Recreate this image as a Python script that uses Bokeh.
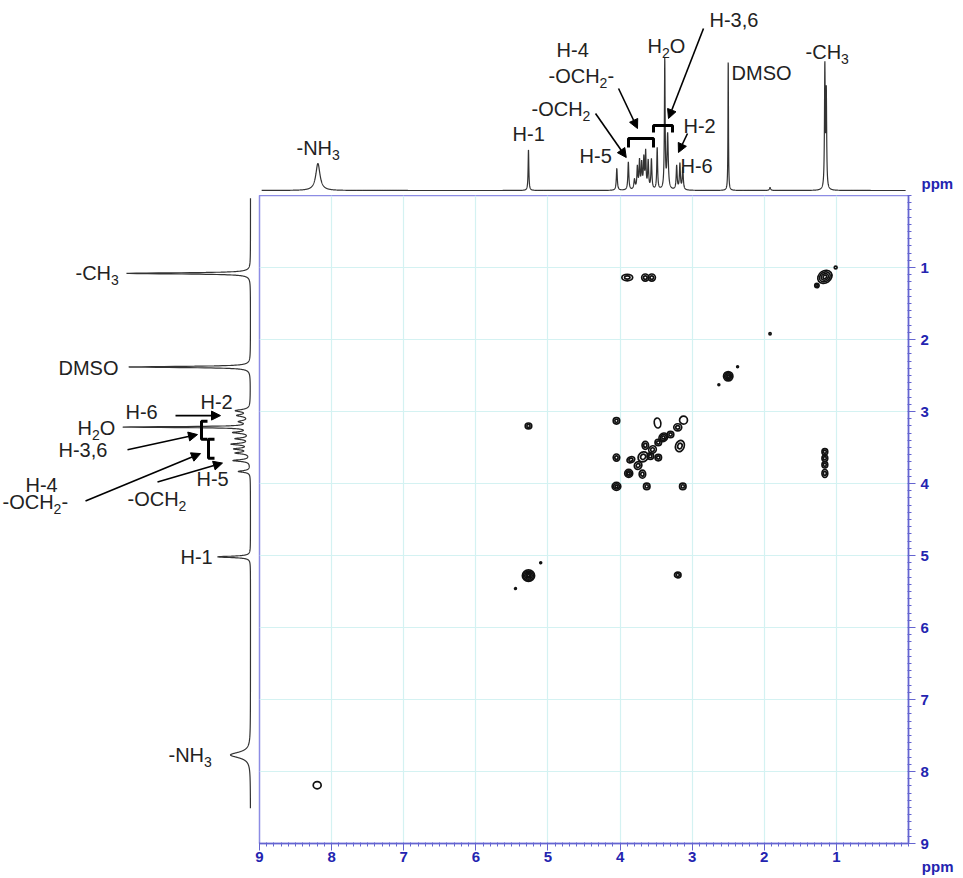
import numpy as np
from bokeh.plotting import figure
from bokeh.models import Range1d, FixedTicker, Arrow, NormalHead, Spacer, ColumnDataSource, LinearAxis
from bokeh.layouts import column, row
from bokeh.embed import file_html
from bokeh.resources import INLINE
from bokeh.core.properties import value

# ---------------- data ----------------
# 1D proton spectrum on top (F2): position ppm, height, half width
top_ppm    = [8.19, 5.27, 4.045, 3.885, 3.80, 3.76, 3.73, 3.70, 3.67, 3.645, 3.61, 3.565, 3.485, 3.38, 3.34, 3.215, 3.17, 3.13, 2.50, 1.92, 1.16, 1.14]
top_height = [27, 41, 22, 28, 10, 22, 28, 25, 30, 36, 28, 30, 42, 130, 55, 24, 26, 22, 131, 3, 122, 95]
top_hwhm   = [0.035, 0.006, 0.008, 0.008, 0.01, 0.008, 0.008, 0.008, 0.008, 0.007, 0.008, 0.008, 0.007, 0.006, 0.01, 0.008, 0.008, 0.008, 0.004, 0.01, 0.006, 0.006]

# 1D projection on the left (F1)
left_ppm    = [8.19, 5.29, 4.04, 3.88, 3.77, 3.71, 3.64, 3.56, 3.47, 3.39, 3.31, 3.22, 3.15, 2.51, 1.14]
left_height = [20, 33, 12, 17, 14, 15, 18, 14, 16, 127, 10, 12, 14, 122, 124]
left_hwhm   = [0.05, 0.012, 0.015, 0.015, 0.015, 0.015, 0.015, 0.015, 0.015, 0.008, 0.02, 0.02, 0.02, 0.01, 0.01]

# COSY cross / diagonal peaks: F2 ppm, F1 ppm, width, height (ppm), contour levels, angle (deg)
pk_f2  = [1.16, 1.27, 1.01, 1.92, 2.50, 2.63, 2.37, 5.27, 5.45, 5.10, 3.20, 5.27, 8.20,
          3.90, 3.65, 3.56, 1.16, 1.16, 1.16, 1.16,
          4.05, 4.05, 4.05, 3.63, 3.13, 3.48, 3.20, 3.12, 3.17, 3.40, 3.47, 3.65, 3.47,
          3.68, 3.58, 3.85, 3.88, 3.69, 3.30, 3.55, 3.75]
pk_f1  = [1.13, 1.25, 1.00, 1.92, 2.51, 2.63, 2.38, 5.28, 5.46, 5.10, 5.27, 3.20, 8.19,
          1.14, 1.14, 1.14, 3.56, 3.65, 3.74, 3.86,
          3.13, 3.64, 4.04, 4.04, 4.04, 3.16, 3.22, 3.12, 3.48, 3.36, 3.43, 3.47, 3.64,
          3.63, 3.62, 3.67, 3.86, 3.87, 3.32, 3.53, 3.75]
pk_w   = [0.21, 0.06, 0.04, 0.03, 0.13, 0.025, 0.025, 0.17, 0.025, 0.025, 0.09, 0.09, 0.11,
          0.15, 0.10, 0.10, 0.08, 0.08, 0.08, 0.08,
          0.09, 0.09, 0.12, 0.09, 0.09, 0.09, 0.11, 0.11, 0.12, 0.13, 0.09, 0.09, 0.09,
          0.15, 0.09, 0.11, 0.11, 0.09, 0.09, 0.11, 0.11]
pk_h   = [0.17, 0.06, 0.04, 0.03, 0.13, 0.025, 0.025, 0.16, 0.025, 0.025, 0.08, 0.08, 0.10,
          0.09, 0.10, 0.10, 0.09, 0.09, 0.09, 0.11,
          0.09, 0.10, 0.11, 0.09, 0.09, 0.14, 0.10, 0.11, 0.16, 0.11, 0.09, 0.11, 0.09,
          0.13, 0.09, 0.08, 0.11, 0.11, 0.09, 0.10, 0.10]
pk_lev = [4, 2, 1, 1, 4, 1, 1, 5, 1, 1, 2, 2, 1,
          2, 2, 2, 2, 2, 2, 2,
          2, 2, 3, 2, 2, 1, 2, 1, 2, 3, 2, 2, 2,
          2, 2, 2, 3, 2, 2, 2, 2]
pk_ang = [35, 0, 0, 0, 0, 0, 0, 0, 0, 0, 0, 0, 0,
          0, 0, 0, 0, 0, 0, 0,
          0, 0, 0, 0, 0, 10, 0, 0, -20, 45, 0, 0, 0,
          45, 0, 20, 0, 0, 0, 45, 45]

tick_values = [1, 2, 3, 4, 5, 6, 7, 8, 9]
tick_labels = ["1", "2", "3", "4", "5", "6", "7", "8", "9"]
unit_label = "ppm"

# annotation texts ("_" marks the next character as subscript)
top_labels = [("-NH_3", 8.487, 43), ("H-1", 5.491, 57), ("H-5", 4.562, 35), ("-OCH_2", 5.228, 82),
              ("H-4", 4.881, 141), ("-OCH_2-", 4.992, 115), ("H_2O", 3.619, 145), ("H-3,6", 2.760, 171),
              ("H-2", 3.120, 65), ("H-6", 3.162, 25), ("DMSO", 2.454, 118), ("-CH_3", 1.428, 139)]
top_arrows = [(4.340, 77, 3.914, 33), (4.021, 102, 3.758, 62), (2.843, 162, 3.328, 72), (3.065, 57, 3.19, 38)]
top_brackets = [(3.883, 3.536, 43, 52), (3.536, 3.273, 58, 65)]

left_labels = [("-CH_3", 175, 1.14), ("DMSO", 192, 2.528), ("H-6", 125, 3.167), ("H-2", 50, 3.028),
               ("H_2O", 173, 3.403), ("H-3,6", 192, 3.722), ("H-4", 225, 4.236), ("-OCH_2-", 248, 4.486),
               ("-OCH_2", 123, 4.444), ("H-5", 54, 4.153), ("H-1", 70, 5.292), ("-NH_3", 82, 8.194)]
left_arrows = [(75, 3.222, 30, 3.222), (123, 3.722, 53, 3.50), (165, 4.472, 50, 3.778), (93, 4.194, 28, 3.917)]
left_brackets = [(49, 43, 3.306, 3.569), (42, 36, 3.569, 3.847)]

# ---------------- styling ----------------
FONT = "Liberation Sans"
BLUE = "#2424b0"
AXIS_BLUE = "#6464d0"
FRAME = "#8c8ce4"
GRID = "#d4f2f2"
INK = "#222222"
PX_PER_PPM = 649 / 9.0

CW = {'-': 0.333, 'H': 0.722, 'O': 0.778, 'C': 0.722, 'N': 0.722, 'D': 0.722, 'M': 0.833,
      'S': 0.667, ',': 0.278}


def parse(lbl):
    parts, i = [], 0
    while i < len(lbl):
        if lbl[i] == "_":
            parts.append((lbl[i + 1], True)); i += 2
        else:
            j = i
            while j < len(lbl) and lbl[j] != "_":
                j += 1
            parts.append((lbl[i:j], False)); i = j
    return parts


def add_label(fig, x, y, lbl, size=20, sub_size=14):
    off = 0.0
    for txt, sub in parse(lbl):
        fs = sub_size if sub else size
        fig.text(x=[x], y=[y], text=[txt], x_offset=off, y_offset=(7 if sub else 0),
                 text_font=value(FONT), text_font_size=f"{fs}px", text_align="left",
                 text_baseline="middle", text_color=INK)
        off += sum(CW.get(c, 0.556) for c in txt) * fs


def lorentz(grid, pos, hts, hws):
    s = np.zeros_like(grid)
    for p, h, w in zip(pos, hts, hws):
        s += h / (1.0 + ((grid - p) / w) ** 2)
    return s


grid = np.linspace(8.97, 0.04, 6000)

# ---------------- top spectrum ----------------
top = figure(width=704, height=195, x_range=Range1d(9, 9 - 704 / PX_PER_PPM), y_range=Range1d(-5, 190),
             toolbar_location=None, output_backend="svg", min_border=0,
             x_axis_location=None, y_axis_location=None)
top.outline_line_color = None
top.grid.visible = False
top.line(grid, lorentz(grid, top_ppm, top_height, top_hwhm), line_color="#333333", line_width=1.2)
for lbl, x, y in top_labels:
    add_label(top, x, y, lbl)
for x0, y0, x1, y1 in top_arrows:
    top.add_layout(Arrow(end=NormalHead(size=9, fill_color="black", line_color="black"),
                         x_start=x0, y_start=y0, x_end=x1, y_end=y1, line_width=1.6, line_color="black"))
top.multi_line(xs=[[a, a, b, b] for a, b, lo, hi in top_brackets],
               ys=[[lo, hi, hi, lo] for a, b, lo, hi in top_brackets], line_color="black", line_width=3)
top.text(x=[-0.18], y=[7], text=[unit_label], text_font=value(FONT), text_font_size="15px",
         text_font_style="bold", text_color=BLUE, text_align="left", text_baseline="middle")

# ---------------- left projection ----------------
left = figure(width=252, height=683, x_range=Range1d(250, -2), y_range=Range1d(683 / 72.0, 0),
              toolbar_location=None, output_backend="svg", min_border=0,
              x_axis_location=None, y_axis_location=None)
left.outline_line_color = None
left.grid.visible = False
left.line(lorentz(grid, left_ppm, left_height, left_hwhm), grid, line_color="#333333", line_width=1.2)
for lbl, x, y in left_labels:
    add_label(left, x, y, lbl)
for x0, y0, x1, y1 in left_arrows:
    left.add_layout(Arrow(end=NormalHead(size=9, fill_color="black", line_color="black"),
                          x_start=x0, y_start=y0, x_end=x1, y_end=y1, line_width=1.6, line_color="black"))
left.multi_line(xs=[[b, a, a, b] for a, b, lo, hi in left_brackets],
                ys=[[lo, lo, hi, hi] for a, b, lo, hi in left_brackets], line_color="black", line_width=3)

# ---------------- main COSY map ----------------
main = figure(width=711, height=683, x_range=Range1d(9, 0), y_range=Range1d(9, 0),
              x_axis_location="below", y_axis_location="right", toolbar_location=None,
              output_backend="svg", min_border_left=7, min_border_top=0,
              min_border_right=55, min_border_bottom=35)
main.outline_line_color = FRAME
main.outline_line_width = 1.5
minor = [round(v, 2) for v in np.arange(0.0, 9.001, 0.1)]
for ax in (main.xaxis[0], main.yaxis[0]):
    ax.ticker = FixedTicker(ticks=tick_values, minor_ticks=minor)
    ax.major_label_overrides = dict(zip(tick_values, tick_labels))
    ax.major_label_text_font = FONT
    ax.major_label_text_font_size = "15px"
    ax.major_label_text_font_style = "bold"
    ax.major_label_text_color = BLUE
    ax.axis_line_color = AXIS_BLUE
    ax.axis_line_width = 1.5
    ax.major_tick_line_color = AXIS_BLUE
    ax.minor_tick_line_color = AXIS_BLUE
    ax.major_tick_out = 7
    ax.major_tick_in = 0
    ax.minor_tick_out = 3
    ax.minor_tick_in = 1
main.xaxis[0].major_label_standoff = 1
main.yaxis[0].major_label_standoff = 5

# "ppm" unit under the bottom-right corner: single label of a second bottom axis
# (the label is centred on the frame's right edge, so it is padded on the left)
main.extra_x_ranges = {"unit": Range1d(0, 1)}
unit_axis = LinearAxis(x_range_name="unit", ticker=FixedTicker(ticks=[1], minor_ticks=[]),
                       major_label_overrides={1: "\u00a0" * 14 + unit_label},
                       axis_line_color=None, major_tick_line_color=None,
                       major_tick_out=0, major_tick_in=0, major_label_standoff=-7,
                       major_label_text_font=FONT, major_label_text_font_size="15px",
                       major_label_text_font_style="bold", major_label_text_color=BLUE)
main.add_layout(unit_axis, "below")

for g in (main.xgrid[0], main.ygrid[0]):
    g.ticker = FixedTicker(ticks=tick_values)
    g.grid_line_color = GRID
    g.grid_line_width = 1.2

rx, ry, rw, rh, ra = [], [], [], [], []
for x, y, w, h, lev, ang in zip(pk_f2, pk_f1, pk_w, pk_h, pk_lev, pk_ang):
    for k in range(1, lev + 1):
        f = k / lev
        rx.append(x); ry.append(y); rw.append(w * f); rh.append(h * f); ra.append(ang)
src = ColumnDataSource(dict(x=rx, y=ry, w=rw, h=rh, a=ra))
main.ellipse(x="x", y="y", width="w", height="h", angle="a", angle_units="deg", source=src,
             fill_color=None, line_color="#111111", line_width=1.7)

layout = column(row(Spacer(width=259, height=195), top), row(left, main))
open("out.html", "w").write(file_html(layout, INLINE))
